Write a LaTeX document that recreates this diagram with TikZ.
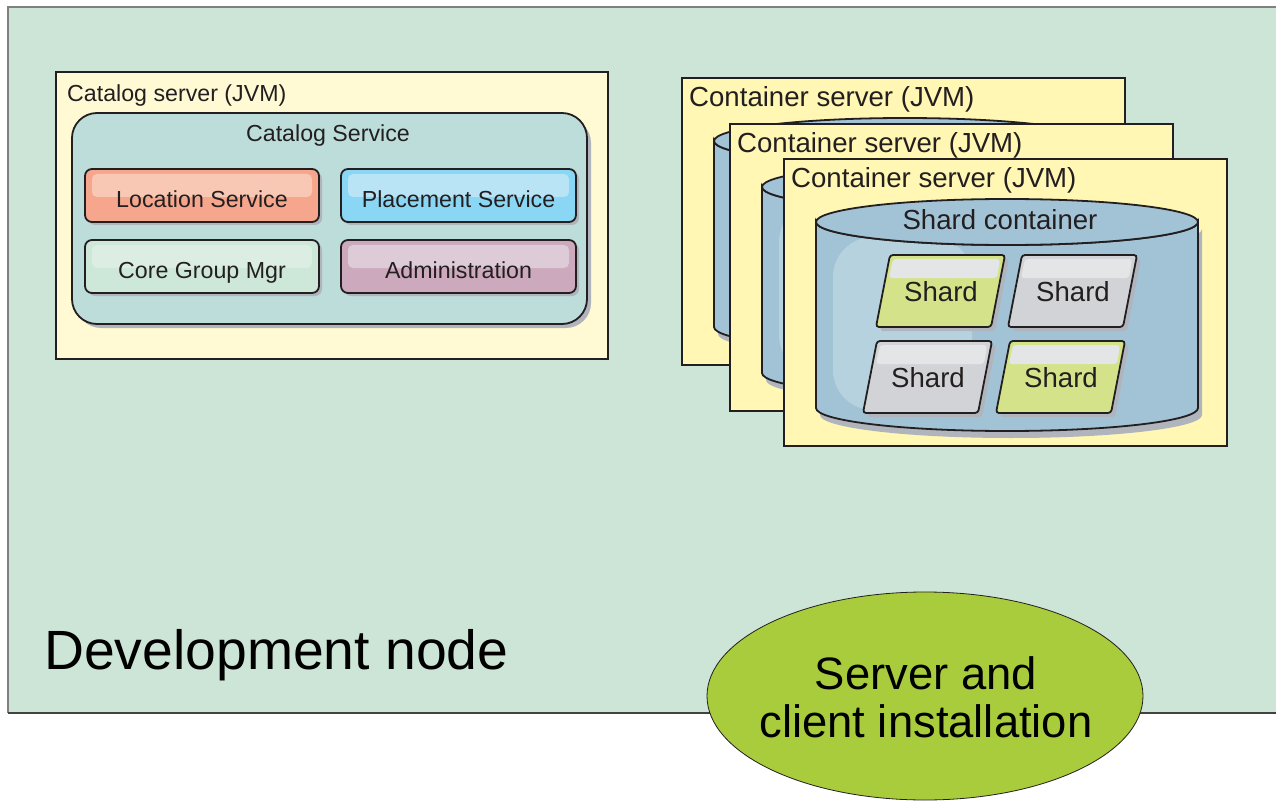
\documentclass[tikz,border=0pt]{standalone}
\usepackage{fontspec}
\setmainfont{Liberation Sans}
\usetikzlibrary{shapes.geometric}
\definecolor{devfill}{HTML}{CCE5D6}
\definecolor{ink}{HTML}{231F20}
\definecolor{catsrv}{HTML}{FFFAD4}
\definecolor{catsvc}{HTML}{BCDDDA}
\definecolor{locf}{HTML}{F6A68C}
\definecolor{loch}{HTML}{F8C8B4}
\definecolor{plaf}{HTML}{8AD7F5}
\definecolor{plah}{HTML}{B8E4F6}
\definecolor{coref}{HTML}{CDE7D8}
\definecolor{coreh}{HTML}{DCEEE4}
\definecolor{admf}{HTML}{CCA9BD}
\definecolor{admh}{HTML}{DDCBD7}
\definecolor{contf}{HTML}{FFF7B3}
\definecolor{cylf}{HTML}{A2C3D5}
\definecolor{cylh}{HTML}{B6D2DF}
\definecolor{shg}{HTML}{D4E38A}
\definecolor{shy}{HTML}{D2D3D6}
\definecolor{shh}{HTML}{E3E5E7}
\definecolor{instf}{HTML}{A8CC3C}
\definecolor{shadowc}{HTML}{B0B4BC}
\newcommand\svcbox[8]{%
  \fill[shadowc, rounded corners=7pt] ({#1+3},{#2+3}) rectangle ({#3+3},{#4+3});
  \draw[line width=1.8pt, draw=ink, fill=#5, rounded corners=7pt] (#1,#2) rectangle (#3,#4);
  \fill[#6, rounded corners=5pt] ({#1+7},{#2+5}) rectangle ({#3-7},{#2+28});
  \node[svctext, anchor=base] (#8) at ({(#1+#3)/2},{#2+39}) {#7};
}
\newcommand\shardbox[4]{% x top-left, y top, fill, name
  \fill[shadowc, rounded corners=3pt] ({#1+4},{#2+4}) -- ({#1+119},{#2+4}) -- ({#1+105},{#2+76}) -- ({#1-10},{#2+76}) -- cycle;
  \draw[line width=1.8pt, draw=ink, fill=#3, rounded corners=3pt] (#1,#2) -- ({#1+115},#2) -- ({#1+101},{#2+72}) -- ({#1-14},{#2+72}) -- cycle;
  \fill[shh, rounded corners=3pt] ({#1+3},{#2+4}) -- ({#1+110},{#2+4}) -- ({#1+107},{#2+23}) -- ({#1-1},{#2+23}) -- cycle;
  \node[shardtext, anchor=base] (#4) at ({#1+51},{#2+46}) {Shard};
}
\newcommand\cylpath{(816,222) -- (816,408) arc[start angle=180, end angle=0, x radius=191, y radius=23] -- (1198,222) arc[start angle=0, end angle=180, x radius=191, y radius=23] -- cycle}
\newcommand\contbox[3]{% dx, dy, name
  \begin{scope}[shift={(#1,#2)}]
    \draw[line width=2pt, draw=ink, fill=contf] (784,159) rectangle (1227,446);
    \node[conttext, anchor=base west] (#3) at (791,188) {Container server (JVM)};
    \fill[shadowc, shift={(4,7)}] \cylpath;
    \fill[cylf] \cylpath;
    \begin{scope}
      \clip \cylpath;
      \fill[cylh, rounded corners=40pt] (833,237) rectangle (972,410);
    \end{scope}
    \draw[line width=1.8pt, draw=ink] \cylpath;
    \draw[line width=1.8pt, draw=ink, fill=cylf] (1007,222) ellipse[x radius=191, y radius=23];
  \end{scope}
}
\begin{document}
\begin{tikzpicture}[x=1pt, y=-1pt,
  svctext/.style={text=ink, font=\fontsize{23.2}{27}\selectfont, inner sep=0pt},
  conttext/.style={text=ink, font=\fontsize{27.6}{32}\selectfont, inner sep=0pt},
  shardtext/.style={text=ink, font=\fontsize{27.6}{32}\selectfont, inner sep=0pt}]
\useasboundingbox (0,0) rectangle (1276,802);
% development node
\fill[devfill] (8,7) rectangle (1276,713);
\draw[line width=1.4pt, draw=gray] (8,713) -- (8,7) -- (1276,7);
\draw[line width=1.4pt, draw=ink!85] (8,713) -- (1276,713);
\node[anchor=base west, inner sep=0pt, font=\fontsize{55.3}{60}\selectfont] (devlabel) at (44,669) {Development node};
% catalog server
\draw[line width=2pt, draw=ink, fill=catsrv] (55.5,72) rectangle (607.5,359);
\node[svctext, anchor=base west] (catsrvlabel) at (67,102) {Catalog server (JVM)};
\fill[shadowc, rounded corners=25pt] (76,118) rectangle (591,328);
\draw[line width=1.8pt, draw=ink, fill=catsvc, rounded corners=25pt] (72,113) rectangle (587,324);
\node[svctext, anchor=base] (catsvclabel) at (328,142) {Catalog Service};
\svcbox{85}{169}{319}{222}{locf}{loch}{Location Service}{loc}
\svcbox{341}{169}{576}{222}{plaf}{plah}{Placement Service}{pla}
\svcbox{85}{240}{319}{293}{coref}{coreh}{Core Group Mgr}{core}
\svcbox{341}{240}{576}{293}{admf}{admh}{Administration}{adm}
% container servers
\contbox{-102}{-81}{cont1}
\contbox{-54}{-35}{cont2}
\contbox{0}{0}{cont3}
\node[conttext, anchor=base] (shcont) at (1000,230) {Shard container};
\shardbox{890}{255}{shg}{sh1}
\shardbox{1022}{255}{shy}{sh2}
\shardbox{877}{341}{shy}{sh3}
\shardbox{1010}{341}{shg}{sh4}
% installation ellipse
\node[ellipse, draw=ink, line width=0.8pt, fill=instf, minimum width=436pt, minimum height=208pt, inner sep=0pt] (inst) at (925,696) {};
\node[anchor=base, inner sep=0pt, font=\fontsize{45.4}{50}\selectfont] (instl1) at (926,689) {Server and};
\node[anchor=base, inner sep=0pt, font=\fontsize{45.4}{50}\selectfont] (instl2) at (926,737) {client installation};
\end{tikzpicture}
\end{document}
